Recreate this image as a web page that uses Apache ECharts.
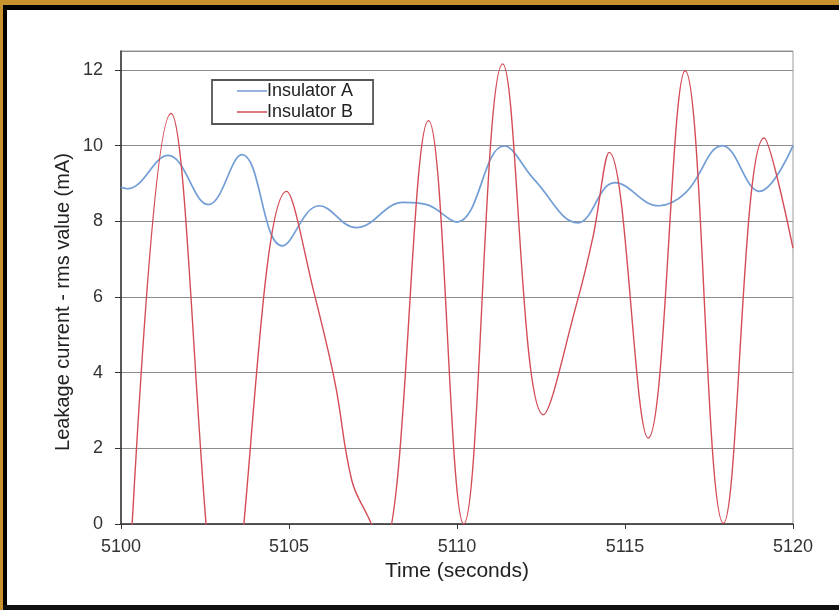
<!DOCTYPE html>
<html>
<head>
<meta charset="utf-8">
<script src="https://cdn.jsdelivr.net/npm/echarts@6/dist/echarts.min.js"></script>
<style>
    html, body { margin: 0; padding: 0; background: #fff; }
    #chart { width: 839px; height: 610px; }
</style>
</head>
<body>
<div id="chart"></div>
<script>
    // values (time in s, current in mA)
    var seriesNames = ['Insulator A', 'Insulator B'];
    var timeA = [5100.0, 5100.2, 5101.4, 5102.6, 5103.6, 5104.8, 5105.9, 5107.0, 5108.4, 5109.1, 5110.0, 5111.4, 5112.3, 5113.6, 5114.7, 5116.0, 5116.8, 5117.9, 5119.0, 5120.0];
    var valueA = [8.9, 8.86, 9.74, 8.44, 9.76, 7.35, 8.41, 7.83, 8.5, 8.44, 7.98, 9.99, 9.1, 7.96, 9.02, 8.41, 8.75, 10.0, 8.79, 10.0];
    // B dips below zero where the reference clips it at the axis
    var timeB = [5100.0, 5101.49, 5103.1, 5104.93, 5105.77, 5106.37, 5106.87, 5107.35, 5107.8, 5109.15, 5110.2, 5111.36, 5112.57, 5113.57, 5114.05, 5114.53, 5115.69, 5116.79, 5117.93, 5119.14, 5120.0];
    var valueB = [-6.0, 10.85, -3.0, 8.79, 6.02, 3.73, 1.15, 0.2, -0.6, 10.66, 0.0, 12.16, 2.89, 5.85, 7.6, 9.82, 2.27, 11.98, 0.02, 10.2, 7.29];
    var xTicks = [5100, 5105, 5110, 5115, 5120];
    var yTicks = [0, 2, 4, 6, 8, 10, 12];

    function pairs(t, v) {
        var out = [];
        t.forEach(function (x, i) { out.push([x, v[i]]); });
        return out;
    }

    var font = 'Liberation Sans, Arial, sans-serif';
    var chart = echarts.init(document.getElementById('chart'));
    var option = {
        animation: false,
        backgroundColor: '#fff',
        color: ['#729dd5', '#d44c57'],
        textStyle: { fontFamily: font },
        grid: {
            left: 121, right: 46, top: 51, bottom: 86,
            show: true, borderColor: '#9a9a9a', borderWidth: 1
        },
        legend: {
            orient: 'vertical',
            left: 212, top: 80,
            padding: [2, 20, 3, 25],
            itemGap: 3,
            itemWidth: 30, itemHeight: 1.5,
            icon: 'rect',
            borderColor: '#555', borderWidth: 1.8,
            selectedMode: false,
            textStyle: { fontSize: 18, color: '#222', padding: [0, 0, 0, -5] },
            data: seriesNames
        },
        xAxis: {
            type: 'value',
            min: xTicks[0], max: xTicks[xTicks.length - 1], interval: 5,
            name: 'Time (seconds)',
            nameLocation: 'middle', nameGap: 36,
            nameTextStyle: { fontSize: 21, color: '#222' },
            axisLine: { lineStyle: { color: '#333', width: 1.5 } },
            axisTick: { show: true, inside: false, length: 5, lineStyle: { color: '#333' } },
            axisLabel: {
                fontSize: 18, color: '#333', margin: 14,
                formatter: function (v) { return String(v); }
            },
            splitLine: { show: false }
        },
        yAxis: {
            type: 'value',
            min: yTicks[0], max: 12.5, interval: 2,
            axisLine: { show: true, lineStyle: { color: '#333', width: 1.5 } },
            axisTick: { show: true, inside: false, length: 6, lineStyle: { color: '#333' } },
            axisLabel: {
                fontSize: 18, color: '#333', margin: 18, showMaxLabel: false,
                formatter: function (v) { return yTicks.indexOf(v) >= 0 ? String(v) : ''; }
            },
            splitLine: { show: true, lineStyle: { color: '#8c8c8c', width: 1.2 } }
        },
        graphic: [
            { type: 'rect', shape: { x: 0, y: 0, width: 839, height: 5 }, style: { fill: '#c8922e' }, z: 10 },
            { type: 'rect', shape: { x: 0, y: 0, width: 3, height: 610 }, style: { fill: '#c8922e' }, z: 10 },
            { type: 'rect', shape: { x: 3, y: 5, width: 836, height: 5 }, style: { fill: '#000' }, z: 10 },
            { type: 'rect', shape: { x: 3, y: 5, width: 4, height: 605 }, style: { fill: '#000' }, z: 10 },
            { type: 'rect', shape: { x: 3, y: 605, width: 836, height: 5 }, style: { fill: '#111' }, z: 10 },
            {
                type: 'text', rotation: Math.PI / 2,
                x: 63, y: 302,
                style: {
                    text: 'Leakage current - rms value (mA)', fontSize: 20, fill: '#222',
                    fontFamily: font,
                    textAlign: 'center', textVerticalAlign: 'middle'
                }
            }
        ],
        series: [
            {
                name: seriesNames[0], type: 'line', smooth: 0.4, showSymbol: false,
                lineStyle: { width: 1.7 }, clip: true,
                data: pairs(timeA, valueA)
            },
            {
                name: seriesNames[1], type: 'line', smooth: 0.4, showSymbol: false,
                lineStyle: { width: 1.4 }, clip: true,
                data: pairs(timeB, valueB)
            }
        ]
    };
    chart.setOption(option);
</script>
</body>
</html>
